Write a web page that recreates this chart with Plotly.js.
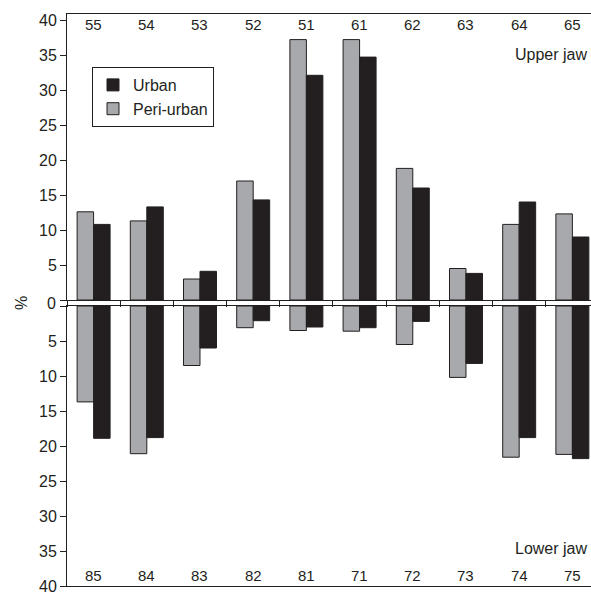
<!DOCTYPE html>
<html>
<head>
<meta charset="utf-8">
<script src="https://cdn.plot.ly/plotly-3.0.1.min.js"></script>
<style>html,body{margin:0;padding:0;background:#fff}#chart{width:591px;height:592px}</style>
</head>
<body>
<div id="chart"></div>
<script>
// Data
var upperTeeth = ["55","54","53","52","51","61","62","63","64","65"];
var lowerTeeth = ["85","84","83","82","81","71","72","73","74","75"];
var upperPeriUrban = [12.6, 11.3, 3.0, 17.0, 37.2, 37.2, 18.8, 4.5, 10.8, 12.3];
var upperUrban     = [10.8, 13.3, 4.1, 14.3, 32.1, 34.7, 16.0, 3.8, 14.0, 9.0];
var lowerPeriUrban = [13.7, 21.1, 8.5, 3.1, 3.5, 3.6, 5.5, 10.2, 21.6, 21.2];
var lowerUrban     = [18.9, 18.8, 6.0, 2.1, 3.0, 3.1, 2.2, 8.2, 18.8, 21.8];
var yTickVals = [0, 5, 10, 15, 20, 25, 30, 35, 40];
var yTickTextUpper = ["", "5", "10", "15", "20", "25", "30", "35", "40"];
var yTickTextLower = ["", "5", "10", "15", "20", "25", "30", "35", "40"];
var seriesNames = ["Peri-urban", "Urban"];
var jawLabels = ["Upper jaw", "Lower jaw"];

var INK = "#231f20";
var GRAY = "#a7a9ac";
var FONT = "Liberation Sans, Arial, Helvetica, sans-serif";

var traces = [
  {type:"bar", x:upperTeeth, y:upperPeriUrban, name:seriesNames[0], xaxis:"x", yaxis:"y",
   marker:{color:GRAY, line:{color:INK, width:1}}, legendrank:2},
  {type:"bar", x:upperTeeth, y:upperUrban, name:seriesNames[1], xaxis:"x", yaxis:"y",
   marker:{color:INK, line:{color:INK, width:1}}, legendrank:1},
  {type:"bar", x:lowerTeeth, y:lowerPeriUrban, name:seriesNames[0], xaxis:"x2", yaxis:"y2",
   marker:{color:GRAY, line:{color:INK, width:1}}, showlegend:false},
  {type:"bar", x:lowerTeeth, y:lowerUrban, name:seriesNames[1], xaxis:"x2", yaxis:"y2",
   marker:{color:INK, line:{color:INK, width:1}}, showlegend:false}
];

var annotations = [];
upperTeeth.forEach(function(t, i){
  annotations.push({text:t, x:i, xref:"x", y:0.981, yref:"paper", showarrow:false,
    yanchor:"middle", xanchor:"center", font:{family:FONT, size:15, color:INK}});
});
lowerTeeth.forEach(function(t, i){
  annotations.push({text:t, x:i, xref:"x2", y:0.0175, yref:"paper", showarrow:false,
    yanchor:"middle", xanchor:"center", font:{family:FONT, size:15, color:INK}});
});
annotations.push({text:jawLabels[0], x:0.996, xref:"paper", y:(586-55)/572, yref:"paper",
  showarrow:false, xanchor:"right", yanchor:"middle", font:{family:FONT, size:16, color:INK}});
annotations.push({text:jawLabels[1], x:0.996, xref:"paper", y:(586-548)/572, yref:"paper",
  showarrow:false, xanchor:"right", yanchor:"middle", font:{family:FONT, size:16, color:INK}});
annotations.push({text:"0", x:-0.017, xref:"paper", y:(586-303)/572, yref:"paper",
  showarrow:false, xanchor:"right", yanchor:"middle", font:{family:FONT, size:16, color:INK}});
annotations.push({text:"%", x:-0.088, xref:"paper", y:(586-303)/572, yref:"paper",
  showarrow:false, xanchor:"center", yanchor:"middle", textangle:-90, font:{family:FONT, size:16, color:INK}});

var yCommon = {showline:true, linecolor:INK, linewidth:1, ticks:"outside", ticklen:6, tickwidth:1,
  tickcolor:INK, tickvals:yTickVals, showgrid:false, zeroline:false, ticklabeloverflow:"allow",
  tickfont:{family:FONT, size:16, color:INK}, fixedrange:true};

var layout = {
  width:591, height:592,
  margin:{l:67, r:0, t:14, b:6, pad:0},
  paper_bgcolor:"#fff", plot_bgcolor:"#fff",
  barmode:"group", bargap:0.38, bargroupgap:0,
  showlegend:true,
  legend:{x:(92-67)/524, y:(586-67)/572, xanchor:"left", yanchor:"top",
    bordercolor:INK, borderwidth:1, bgcolor:"#fff",
    font:{family:FONT, size:16, color:INK}, tracegroupgap:0},
  xaxis:{type:"category", categoryorder:"array", categoryarray:upperTeeth,
    range:[-0.5, 9.35], anchor:"y", showline:true, mirror:true, linecolor:INK, linewidth:1,
    ticks:"outside", tickson:"boundaries", ticklen:6, tickwidth:1, tickcolor:INK,
    showticklabels:false, showgrid:false, zeroline:false, fixedrange:true},
  xaxis2:{type:"category", categoryorder:"array", categoryarray:lowerTeeth,
    range:[-0.5, 9.35], anchor:"y2", showline:true, mirror:true, linecolor:INK, linewidth:1,
    ticks:"", showticklabels:false, showgrid:false, zeroline:false, fixedrange:true},
  yaxis:Object.assign({}, yCommon, {domain:[0.5, 1], range:[0, 40.857], anchor:"x",
    ticktext:yTickTextUpper}),
  yaxis2:Object.assign({}, yCommon, {domain:[0, 280/572], range:[40, 0], anchor:"x2",
    ticktext:yTickTextLower}),
  annotations:annotations
};

Plotly.newPlot("chart", traces, layout, {displayModeBar:false, staticPlot:true});
</script>
</body>
</html>
